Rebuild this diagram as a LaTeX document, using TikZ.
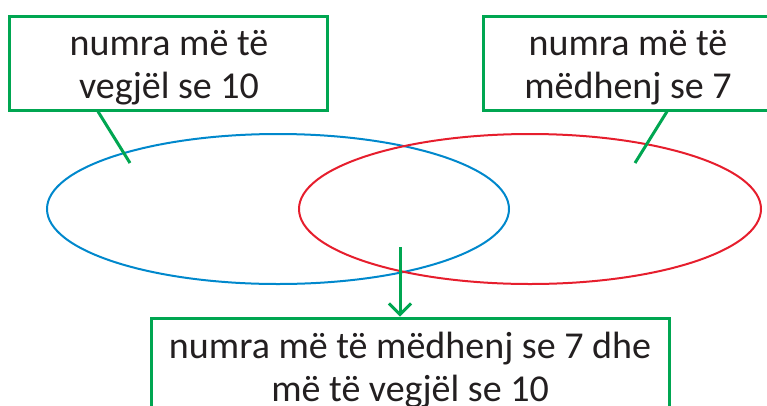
\documentclass[tikz,border=0pt]{standalone}
\usepackage{fontspec}
\setmainfont{Carlito}
\usetikzlibrary{shapes.geometric,arrows.meta}
\definecolor{boxgreen}{RGB}{0,166,81}
\definecolor{setblue}{RGB}{0,136,204}
\definecolor{setred}{RGB}{230,30,45}
\definecolor{txtgray}{RGB}{35,31,32}
\tikzset{
  labelbox/.style={draw=boxgreen, line width=3pt, minimum height=94pt, inner sep=0pt},
  labeltext/.style={font=\fontsize{38}{43}\selectfont, text=txtgray, align=center, inner sep=0pt},
  setoval/.style={ellipse, line width=2pt, minimum width=462pt, minimum height=150pt, inner sep=0pt},
  pointer/.style={draw=boxgreen, line width=3pt}
}

\begin{document}
\begin{tikzpicture}[x=1pt,y=-1pt]
  \useasboundingbox (0,0) rectangle (767,405);
  % the two sets
  \node[setoval, draw=setblue] (blueset) at (278,209) {};
  \node[setoval, draw=setred]  (redset)  at (530,209) {};
  % label boxes
  \node[labelbox, minimum width=318pt] (lbox) at (168,63) {};
  \node[labelbox, minimum width=290pt] (rbox) at (628,63) {};
  \node[labelbox, minimum width=518pt] (bbox) at (410,365) {};
  \node[labeltext] (ltext) at (169,68) {numra më të\\vegjël se 10};
  \node[labeltext] (rtext) at (628,68) {numra më të\\mëdhenj se 7};
  \node[labeltext] (btext) at (410,370) {numra më të mëdhenj se 7 dhe\\më të vegjël se 10};
  % pointers
  \coordinate (lend) at (130,163);
  \coordinate (rend) at (635,163);
  \coordinate (overlap) at (400,247);
  \draw[pointer] ([xshift=-70pt]lbox.south) -- (lend);
  \draw[pointer] ([xshift=39pt]rbox.south) -- (rend);
  \draw[pointer, -{Straight Barb[length=11pt,width=22pt]}] (overlap) -- (bbox.north -| overlap);
\end{tikzpicture}
\end{document}
